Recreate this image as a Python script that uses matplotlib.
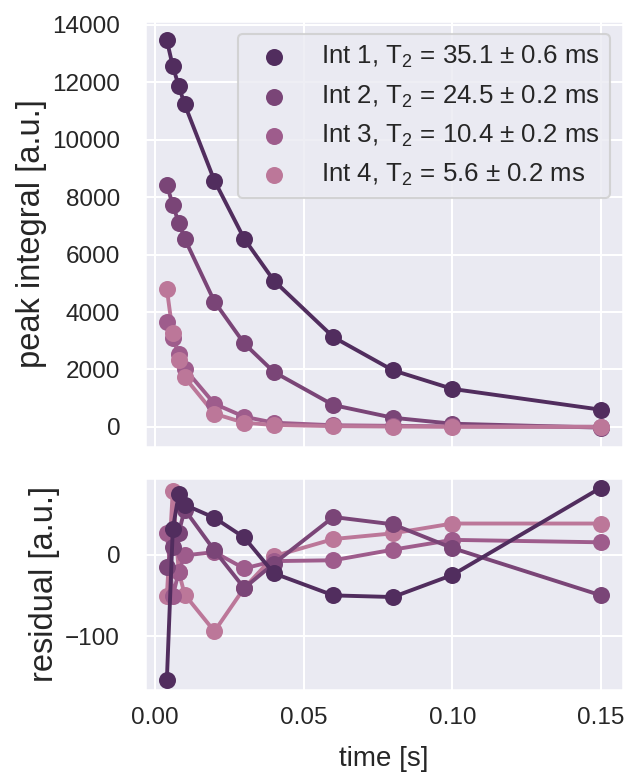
import numpy as np
import matplotlib
matplotlib.use("Agg")
import matplotlib.pyplot as plt
import seaborn as sns

# delay times and fitted peak integrals
t = np.array([0.004, 0.006, 0.008, 0.010, 0.020, 0.030, 0.040, 0.060, 0.080, 0.100, 0.150])

int1 = np.array([13450, 12550, 11860, 11220, 8570, 6550, 5090, 3125, 1972, 1325, 600])
int2 = np.array([8420, 7726, 7103, 6550, 4360, 2906, 1913, 761, 322, 114, -23])
int3 = np.array([3643, 3090, 2536, 2031, 806, 356, 149, 60, 40, 20, 5])
int4 = np.array([4800, 3264, 2342, 1730, 460, 149, 69, 30, 15, 10, 5])

res1 = np.array([-154, 31, 74, 61, 45, 21, -23, -50, -52, -25, 82])
res2 = np.array([-15, 9, 27, 55, 5, -41, -11, 46, 37, 8, -50])
res3 = np.array([27, -51, -21, -1, 3, -17, -8, -7, 6, 18, 15])
res4 = np.array([-51, 78, -21, -49, -94, -41, -2, 19, 26, 38, 38])

labels = ["Int 1, T$_2$ = 35.1 ± 0.6 ms",
          "Int 2, T$_2$ = 24.5 ± 0.2 ms",
          "Int 3, T$_2$ = 10.4 ± 0.2 ms",
          "Int 4, T$_2$ = 5.6 ± 0.2 ms"]
colors = ["#512d5e", "#7a4577", "#9e5c8c", "#bc7799"]

sns.set_theme(context="talk", style="darkgrid")
plt.rcParams["font.family"] = ["Liberation Sans", "DejaVu Sans"]
plt.rcParams["mathtext.default"] = "regular"
plt.rcParams["xtick.labelsize"] = 17.5
plt.rcParams["ytick.labelsize"] = 17.5
plt.rcParams["ytick.major.pad"] = 9
plt.rcParams["axes.labelsize"] = 20
plt.rcParams["legend.fontsize"] = 18.6

fig, (ax, axr) = plt.subplots(2, 1, sharex=True, figsize=(6.31, 7.77), dpi=100,
                              gridspec_kw=dict(height_ratios=[426, 212]))
fig.subplots_adjust(left=0.23, right=0.987, top=0.973, bottom=0.112, hspace=0.097)

for y, c, lab in zip([int1, int2, int3, int4], colors, labels):
    ax.plot(t, y, "-", color=c, lw=2.8)
    ax.scatter(t, y, s=150, color=c, label=lab, zorder=3, linewidths=0)

# residuals: first series ends up on top
for k, (r, c) in enumerate(reversed(list(zip([res1, res2, res3, res4], colors)))):
    axr.plot(t, r, "-", color=c, lw=2.8, zorder=2 + k)
    axr.scatter(t, r, s=150, color=c, zorder=2 + k, linewidths=0)

ax.set_yticks(np.arange(0, 14001, 2000))
ax.set_ylabel("peak integral [a.u.]", fontsize=23.5)
ax.legend(loc="upper right")

axr.set_yticks([-100, 0])
axr.set_xticks([0.0, 0.05, 0.10, 0.15])
axr.set_ylabel("residual [a.u.]", fontsize=23.5)
axr.set_xlabel("time [s]", labelpad=12)

fig.savefig("out.png", dpi=100)
